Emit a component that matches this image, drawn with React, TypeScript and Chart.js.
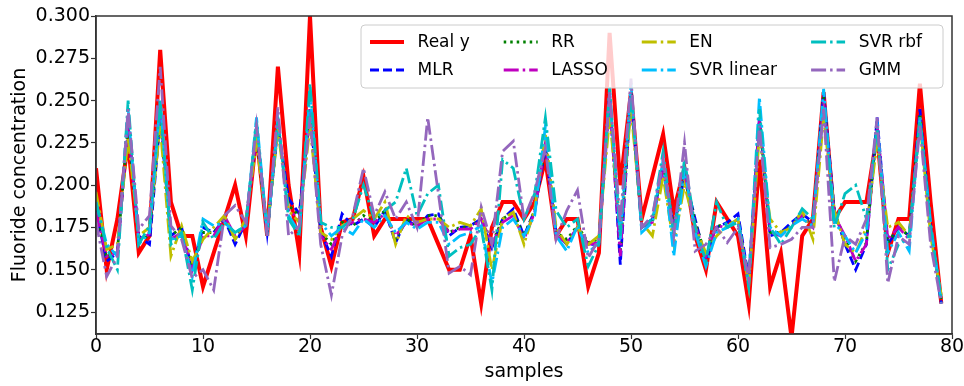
import React, { useEffect, useRef } from "react";
import { Chart, registerables } from "chart.js";

Chart.register(...registerables);

const sampleIdx: number[] = Array.from({ length: 80 }, (_, i) => i);
const xTicks = [0, 10, 20, 30, 40, 50, 60, 70, 80];
const yTicks = [0.125, 0.15, 0.175, 0.2, 0.225, 0.25, 0.275, 0.3];

const realY = [
  0.210, 0.150, 0.180, 0.225, 0.160, 0.170, 0.280, 0.190, 0.170, 0.170,
  0.140, 0.160, 0.180, 0.200, 0.170, 0.230, 0.170, 0.270, 0.200, 0.160,
  0.300, 0.175, 0.152, 0.178, 0.180, 0.205, 0.170, 0.180, 0.180, 0.180,
  0.180, 0.180, 0.165, 0.150, 0.150, 0.170, 0.130, 0.175, 0.190, 0.190,
  0.180, 0.190, 0.215, 0.170, 0.180, 0.180, 0.140, 0.160, 0.290, 0.200,
  0.255, 0.180, 0.205, 0.230, 0.185, 0.210, 0.170, 0.150, 0.190, 0.180,
  0.170, 0.130, 0.215, 0.140, 0.160, 0.110, 0.170, 0.180, 0.255, 0.180,
  0.190, 0.190, 0.190, 0.230, 0.160, 0.180, 0.180, 0.260, 0.190, 0.130,
];
const mlr = [
  0.185, 0.155, 0.160, 0.235, 0.170, 0.165, 0.240, 0.170, 0.175, 0.150,
  0.175, 0.172, 0.180, 0.165, 0.178, 0.232, 0.172, 0.235, 0.192, 0.183,
  0.245, 0.172, 0.158, 0.183, 0.176, 0.180, 0.175, 0.185, 0.166, 0.180,
  0.175, 0.182, 0.183, 0.170, 0.175, 0.176, 0.180, 0.163, 0.180, 0.186,
  0.170, 0.185, 0.222, 0.172, 0.165, 0.175, 0.165, 0.165, 0.255, 0.153,
  0.255, 0.175, 0.180, 0.210, 0.175, 0.205, 0.180, 0.155, 0.175, 0.178,
  0.183, 0.145, 0.240, 0.170, 0.172, 0.178, 0.183, 0.178, 0.255, 0.185,
  0.165, 0.150, 0.165, 0.240, 0.165, 0.175, 0.170, 0.245, 0.175, 0.130,
];
const rr = [
  0.186, 0.157, 0.161, 0.236, 0.168, 0.170, 0.240, 0.170, 0.175, 0.152,
  0.172, 0.172, 0.180, 0.168, 0.178, 0.230, 0.172, 0.235, 0.188, 0.182,
  0.242, 0.172, 0.165, 0.178, 0.176, 0.182, 0.178, 0.185, 0.168, 0.180,
  0.176, 0.182, 0.182, 0.172, 0.175, 0.175, 0.180, 0.165, 0.180, 0.184,
  0.170, 0.185, 0.225, 0.172, 0.168, 0.176, 0.166, 0.168, 0.252, 0.160,
  0.255, 0.176, 0.178, 0.212, 0.175, 0.206, 0.178, 0.158, 0.176, 0.176,
  0.180, 0.145, 0.240, 0.172, 0.172, 0.176, 0.182, 0.176, 0.252, 0.184,
  0.168, 0.155, 0.166, 0.236, 0.166, 0.175, 0.170, 0.242, 0.175, 0.132,
];
const lasso = [
  0.184, 0.158, 0.160, 0.235, 0.168, 0.171, 0.245, 0.168, 0.172, 0.150,
  0.170, 0.170, 0.182, 0.170, 0.176, 0.230, 0.172, 0.236, 0.185, 0.180,
  0.245, 0.170, 0.162, 0.176, 0.178, 0.180, 0.178, 0.183, 0.170, 0.178,
  0.176, 0.180, 0.180, 0.172, 0.174, 0.174, 0.180, 0.165, 0.178, 0.182,
  0.168, 0.184, 0.225, 0.170, 0.166, 0.175, 0.165, 0.166, 0.250, 0.158,
  0.255, 0.175, 0.178, 0.210, 0.175, 0.205, 0.176, 0.158, 0.176, 0.175,
  0.180, 0.142, 0.238, 0.172, 0.170, 0.176, 0.182, 0.175, 0.250, 0.182,
  0.170, 0.155, 0.165, 0.236, 0.168, 0.175, 0.168, 0.240, 0.175, 0.132,
];
const en = [
  0.196, 0.162, 0.165, 0.228, 0.170, 0.175, 0.235, 0.158, 0.176, 0.155,
  0.168, 0.175, 0.182, 0.168, 0.180, 0.225, 0.175, 0.232, 0.185, 0.178,
  0.235, 0.172, 0.168, 0.176, 0.180, 0.185, 0.180, 0.190, 0.165, 0.182,
  0.178, 0.180, 0.180, 0.175, 0.178, 0.176, 0.186, 0.150, 0.180, 0.184,
  0.165, 0.186, 0.230, 0.175, 0.165, 0.175, 0.165, 0.170, 0.240, 0.175,
  0.245, 0.178, 0.170, 0.205, 0.165, 0.200, 0.175, 0.160, 0.170, 0.176,
  0.180, 0.140, 0.230, 0.180, 0.172, 0.175, 0.185, 0.168, 0.240, 0.185,
  0.165, 0.160, 0.175, 0.225, 0.175, 0.178, 0.170, 0.238, 0.170, 0.135,
];
const svrLinear = [
  0.190, 0.165, 0.158, 0.245, 0.165, 0.172, 0.250, 0.168, 0.170, 0.146,
  0.180, 0.176, 0.178, 0.172, 0.176, 0.240, 0.172, 0.238, 0.182, 0.172,
  0.255, 0.178, 0.170, 0.175, 0.171, 0.180, 0.175, 0.182, 0.172, 0.178,
  0.174, 0.178, 0.178, 0.165, 0.170, 0.172, 0.176, 0.142, 0.175, 0.180,
  0.170, 0.182, 0.235, 0.170, 0.161, 0.176, 0.160, 0.166, 0.255, 0.168,
  0.260, 0.172, 0.178, 0.215, 0.158, 0.210, 0.172, 0.152, 0.172, 0.175,
  0.180, 0.142, 0.252, 0.175, 0.170, 0.176, 0.180, 0.176, 0.257, 0.178,
  0.170, 0.160, 0.172, 0.238, 0.160, 0.172, 0.161, 0.240, 0.178, 0.130,
];
const svrRbf = [
  0.190, 0.163, 0.150, 0.250, 0.165, 0.176, 0.250, 0.165, 0.172, 0.138,
  0.178, 0.168, 0.178, 0.172, 0.176, 0.238, 0.170, 0.240, 0.180, 0.170,
  0.260, 0.178, 0.175, 0.175, 0.180, 0.200, 0.180, 0.185, 0.190, 0.210,
  0.182, 0.195, 0.200, 0.158, 0.163, 0.165, 0.175, 0.138, 0.215, 0.210,
  0.180, 0.195, 0.240, 0.185, 0.175, 0.180, 0.152, 0.165, 0.258, 0.170,
  0.255, 0.175, 0.180, 0.220, 0.170, 0.215, 0.175, 0.155, 0.190, 0.175,
  0.178, 0.140, 0.245, 0.175, 0.165, 0.175, 0.186, 0.180, 0.245, 0.175,
  0.195, 0.200, 0.180, 0.235, 0.150, 0.165, 0.170, 0.240, 0.175, 0.133,
];
const gmm = [
  0.178, 0.146, 0.158, 0.245, 0.174, 0.182, 0.270, 0.176, 0.168, 0.145,
  0.150, 0.138, 0.182, 0.188, 0.178, 0.235, 0.170, 0.246, 0.170, 0.176,
  0.240, 0.165, 0.135, 0.170, 0.182, 0.210, 0.182, 0.196, 0.180, 0.190,
  0.175, 0.240, 0.195, 0.148, 0.152, 0.147, 0.187, 0.165, 0.220, 0.226,
  0.180, 0.196, 0.222, 0.168, 0.185, 0.197, 0.157, 0.168, 0.255, 0.178,
  0.263, 0.175, 0.182, 0.215, 0.170, 0.225, 0.161, 0.165, 0.175, 0.166,
  0.175, 0.145, 0.235, 0.163, 0.165, 0.168, 0.175, 0.175, 0.245, 0.143,
  0.170, 0.165, 0.180, 0.240, 0.142, 0.170, 0.165, 0.235, 0.165, 0.130,
];

const seriesNames = ["Real y", "MLR", "RR", "LASSO", "EN", "SVR linear", "SVR rbf", "GMM"];
const seriesValues = [realY, mlr, rr, lasso, en, svrLinear, svrRbf, gmm];
const seriesColors = ["#ff0000", "#0000ff", "#008000", "#bf00bf", "#bfbf00", "#00bfff", "#00bfbf", "#9467bd"];
const DASHDOT = [15, 4, 2.5, 4];
const seriesDashes = [[], [9, 4], [2.5, 4], DASHDOT, DASHDOT, DASHDOT, DASHDOT, DASHDOT];
const seriesWidths = [4, 2.8, 2.8, 2.8, 2.8, 2.8, 2.8, 2.8];

const FONT = "'DejaVu Sans', sans-serif";

const framePlugin = {
  id: "mplFrame",
  afterDraw(chart: any) {
    const ctx = chart.ctx;
    const a = chart.chartArea;
    ctx.save();
    ctx.setLineDash([]);
    ctx.strokeStyle = "#333";
    ctx.lineWidth = 1.5;
    ctx.strokeRect(Math.round(a.left), Math.round(a.top), Math.round(a.right - a.left), Math.round(a.bottom - a.top));
    ctx.restore();
  },
};

const legendPlugin = {
  id: "mplLegend",
  afterDraw(chart: any) {
    const ctx = chart.ctx;
    ctx.save();
    const fs = 17;
    ctx.font = `${fs}px ${FONT}`;
    const handleLen = 34;
    const handlePad = 13.6;
    const colSpace = 34;
    const boxLeft = 361;
    const boxTop = 25;
    const boxBottom = 88;
    const rowsY = [42, 70];
    const cols = [[0, 1], [2, 3], [4, 5], [6, 7]];
    const colX: number[] = [];
    let x = boxLeft + 9;
    const widths: number[] = [];
    cols.forEach((c) => {
      colX.push(x);
      const w = Math.max(...c.map((i) => ctx.measureText(seriesNames[i]).width));
      widths.push(w);
      x += handleLen + handlePad + w + colSpace;
    });
    const boxRight = Math.max(943, colX[3] + handleLen + handlePad + widths[3] + 7);
    const r = 4;
    ctx.setLineDash([]);
    ctx.beginPath();
    ctx.moveTo(boxLeft + r, boxTop);
    ctx.lineTo(boxRight - r, boxTop);
    ctx.quadraticCurveTo(boxRight, boxTop, boxRight, boxTop + r);
    ctx.lineTo(boxRight, boxBottom - r);
    ctx.quadraticCurveTo(boxRight, boxBottom, boxRight - r, boxBottom);
    ctx.lineTo(boxLeft + r, boxBottom);
    ctx.quadraticCurveTo(boxLeft, boxBottom, boxLeft, boxBottom - r);
    ctx.lineTo(boxLeft, boxTop + r);
    ctx.quadraticCurveTo(boxLeft, boxTop, boxLeft + r, boxTop);
    ctx.closePath();
    ctx.fillStyle = "rgba(255,255,255,0.8)";
    ctx.fill();
    ctx.strokeStyle = "#cccccc";
    ctx.lineWidth = 1;
    ctx.stroke();

    cols.forEach((c, ci) => {
      c.forEach((si, ri) => {
        const y = rowsY[ri];
        const x0 = colX[ci];
        ctx.beginPath();
        ctx.strokeStyle = seriesColors[si];
        ctx.lineWidth = seriesWidths[si];
        ctx.setLineDash(seriesDashes[si]);
        ctx.moveTo(x0, y);
        ctx.lineTo(x0 + handleLen, y);
        ctx.stroke();
        ctx.setLineDash([]);
        ctx.fillStyle = "#000";
        ctx.textBaseline = "middle";
        ctx.textAlign = "left";
        ctx.fillText(seriesNames[si], x0 + handleLen + handlePad, y + 1);
      });
    });
    ctx.restore();
  },
};

export default function App() {
  const ref = useRef<HTMLCanvasElement | null>(null);
  useEffect(() => {
    if (!ref.current) return;
    const datasets = seriesNames.map((name, si) => ({
      label: name,
      data: seriesValues[si].map((v, i) => ({ x: sampleIdx[i], y: v })),
      borderColor: seriesColors[si],
      backgroundColor: seriesColors[si],
      borderWidth: seriesWidths[si],
      borderDash: seriesDashes[si],
      pointRadius: 0,
      tension: 0,
      fill: false,
      order: seriesNames.length - si,
    }));
    const chart = new Chart(ref.current, {
      type: "line",
      data: { datasets },
      options: {
        animation: false,
        responsive: false,
        devicePixelRatio: 1,
        layout: { padding: { top: 16, right: 12, left: 0, bottom: 0 } },
        plugins: { legend: { display: false }, tooltip: { enabled: false } },
        scales: {
          x: {
            type: "linear",
            position: "bottom",
            min: 0,
            max: 80,
            afterBuildTicks: (s: any) => {
              s.ticks = xTicks.map((v) => ({ value: v }));
            },
            afterFit: (s: any) => {
              s.height = 52;
            },
            ticks: {
              autoSkip: false,
              maxRotation: 0,
              padding: -3,
              color: "#000",
              font: { family: FONT, size: 19 },
              callback: (v: any) => String(v),
            },
            grid: { drawOnChartArea: false, drawTicks: true, tickLength: 5, color: "#333", tickWidth: 1.2 },
            border: { display: true, color: "#333", width: 1.5 },
            title: {
              display: true,
              text: "samples",
              color: "#000",
              font: { family: FONT, size: 19 },
              padding: { top: 0, bottom: 3 },
            },
          },
          y: {
            type: "linear",
            position: "left",
            min: 0.112,
            max: 0.3,
            afterBuildTicks: (s: any) => {
              s.ticks = yTicks.map((v) => ({ value: v }));
            },
            afterFit: (s: any) => {
              s.width = 96;
            },
            ticks: {
              padding: 1,
              color: "#000",
              font: { family: FONT, size: 19 },
              callback: (v: any) => Number(v).toFixed(3),
            },
            grid: { drawOnChartArea: false, drawTicks: true, tickLength: 5, color: "#333", tickWidth: 1.2 },
            border: { display: true, color: "#333", width: 1.5 },
            title: {
              display: true,
              text: "Fluoride concentration",
              color: "#000",
              font: { family: FONT, size: 19 },
              padding: { top: 9, bottom: 0 },
            },
          },
        },
      },
      plugins: [framePlugin, legendPlugin],
    } as any);
    return () => chart.destroy();
  }, []);
  return (
    <div style={{ position: "fixed", left: 0, top: 0, width: 964, height: 386, background: "#fff" }}>
      <canvas ref={ref} width={964} height={386} style={{ display: "block", width: 964, height: 386 }} />
    </div>
  );
}
